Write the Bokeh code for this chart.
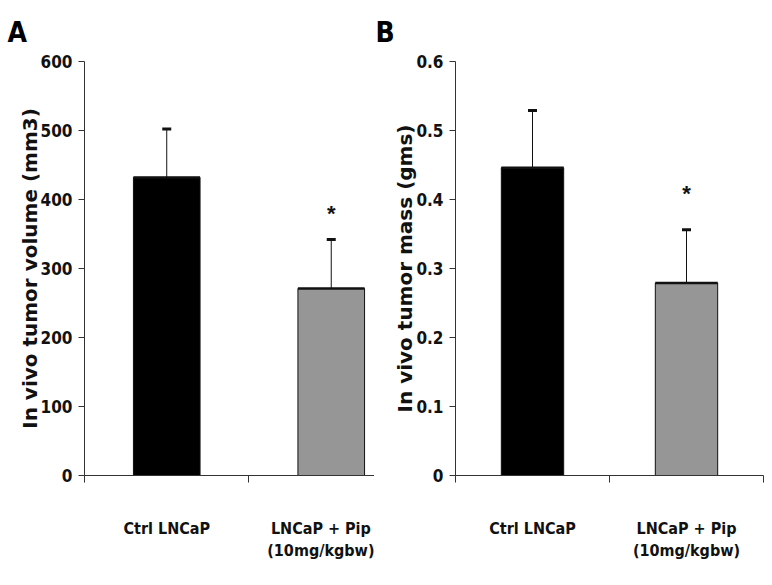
from bokeh.plotting import figure
from bokeh.layouts import row
from bokeh.models import Range1d, FixedTicker, Whisker, TeeHead, ColumnDataSource
from bokeh.core.properties import value
from bokeh.embed import file_html
from bokeh.resources import INLINE

groups = ["Ctrl LNCaP", "LNCaP + Pip\n(10mg/kgbw)"]
bar_colors = ["#000000", "#969696"]

volume_mean = [432, 271]
volume_err = [70, 71]
volume_sig = [None, 380]

mass_mean = [0.446, 0.279]
mass_err = [0.083, 0.077]
mass_sig = [None, 0.408]

volume_ticks = [0, 100, 200, 300, 400, 500, 600]
mass_ticks = [0, 0.1, 0.2, 0.3, 0.4, 0.5, 0.6]

NARROW = "DejaVu Sans Condensed"


def panel(means, errs, sig, ticks, ylabel, letter, width, border_left, border_right, xend, title_offset):
    xs = [i + 0.5 for i in range(len(groups))]
    top = [m + e for m, e in zip(means, errs)]
    src = ColumnDataSource(dict(x=xs, mean=means, top=top, color=bar_colors))
    p = figure(width=width, height=569, output_backend="svg", toolbar_location=None,
               x_range=Range1d(0, xend), y_range=Range1d(ticks[0], ticks[-1]),
               min_border_left=border_left, min_border_right=border_right,
               min_border_top=54, min_border_bottom=94)
    p.outline_line_color = None
    p.grid.visible = False
    p.background_fill_color = "white"
    p.border_fill_color = "white"

    p.title.text = letter
    p.title.align = "left"
    p.title.offset = title_offset
    p.title.standoff = 26
    p.title.text_font = NARROW
    p.title.text_font_style = "bold"
    p.title.text_font_size = "28px"
    p.title.text_color = "#000000"

    p.vbar(x="x", top="mean", bottom=0, width=0.405, fill_color="color",
           line_color="#111111", line_width=1, source=src)
    p.segment(x0=[x - 0.2025 for x in xs], y0=means, x1=[x + 0.2025 for x in xs], y1=means,
              line_color="#111111", line_width=2.5)
    w = Whisker(base="x", lower="mean", upper="top", source=src, line_color="#111111",
                line_width=1, lower_head=None,
                upper_head=TeeHead(size=9, line_width=3, line_color="#111111"))
    p.add_layout(w)

    sx = [x for x, s in zip(xs, sig) if s is not None]
    sy = [s for s in sig if s is not None]
    p.text(x=sx, y=sy, text=["*"] * len(sx), text_align="center", text_baseline="middle",
           text_font=value("Liberation Sans"), text_font_style="bold", text_font_size="22px",
           text_color="#111111")

    # x axis
    xa = p.xaxis[0]
    xa.ticker = FixedTicker(ticks=xs, minor_ticks=list(range(len(groups) + 1)))
    xa.major_label_overrides = {x: g for x, g in zip(xs, groups)}
    xa.major_tick_out = 0
    xa.major_tick_in = 0
    xa.minor_tick_out = 7
    xa.minor_tick_in = 0
    xa.minor_tick_line_color = "#333333"
    xa.axis_line_color = "#333333"
    xa.major_label_standoff = 36
    xa.major_label_text_font = NARROW
    xa.major_label_text_font_style = "bold"
    xa.major_label_text_font_size = "16px"
    xa.major_label_text_color = "#111111"

    # y axis
    ya = p.yaxis[0]
    ya.ticker = FixedTicker(ticks=ticks, minor_ticks=[])
    ya.major_label_overrides = {0: "0"}
    ya.major_tick_out = 6
    ya.major_tick_in = 0
    ya.major_tick_line_color = "#333333"
    ya.axis_line_color = "#333333"
    ya.major_label_standoff = 6
    ya.major_label_text_font = NARROW
    ya.major_label_text_font_style = "bold"
    ya.major_label_text_font_size = "17px"
    ya.major_label_text_color = "#111111"
    ya.axis_label = ylabel
    ya.axis_label_text_font = "DejaVu Sans"
    ya.axis_label_text_font_style = "bold"
    ya.axis_label_text_font_size = "20px"
    ya.axis_label_text_color = "#111111"
    ya.axis_label_standoff = -4
    return p


pa = panel(volume_mean, volume_err, volume_sig, volume_ticks, "In vivo tumor volume (mm3)",
           "A", 374, 84, 0, 1.763, -77)
pb = panel(mass_mean, mass_err, mass_sig, mass_ticks, "In vivo tumor mass (gms)",
           "B", 390, 81, 1, 2.0, -80)

layout = row(pa, pb, spacing=0)
open("out.html", "w").write(file_html(layout, INLINE))
